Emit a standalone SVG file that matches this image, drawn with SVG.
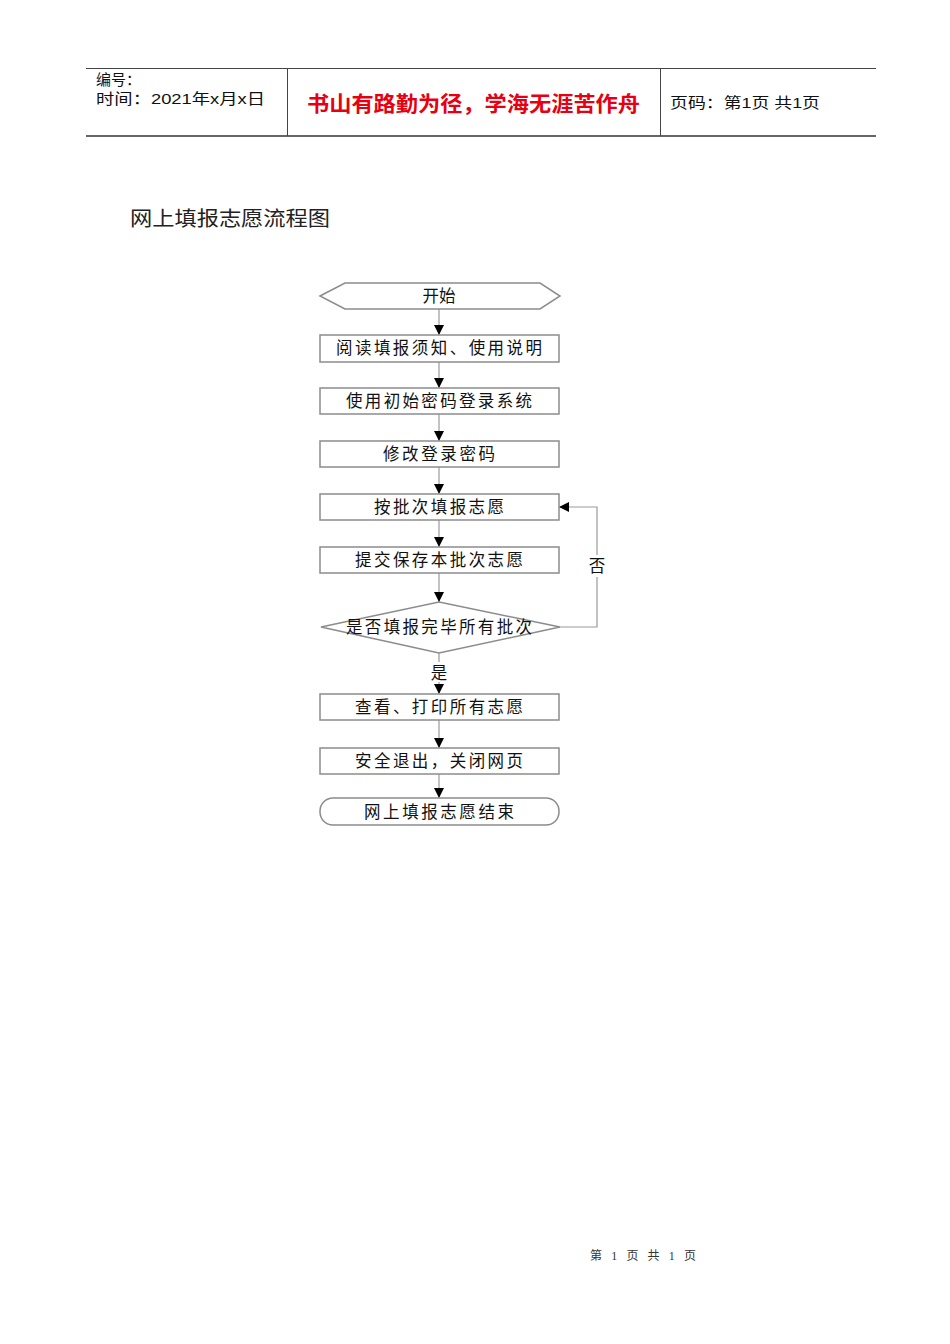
<svg xmlns="http://www.w3.org/2000/svg" width="950" height="1344" viewBox="0 0 950 1344">
<defs>
<style>
.hdr{font-family:"Liberation Sans","Noto Sans CJK SC",sans-serif;font-size:15px;fill:#111}
.red{font-family:"Liberation Sans","Noto Sans CJK SC",sans-serif;font-size:21px;fill:#e60012;font-weight:bold}
.node{fill:#fff;stroke:#8c8c8c;stroke-width:1.5}
.lbl{font-family:"Liberation Sans","Noto Sans CJK SC",sans-serif;font-size:16.5px;fill:#111;text-anchor:middle}
.conn{stroke:#9a9a9a;stroke-width:1.2;fill:none}
.title{font-family:"Liberation Serif","Noto Sans CJK SC",serif;font-size:20px;fill:#222}
.foot{font-family:"Liberation Serif","Noto Sans CJK SC",serif;font-size:12px;fill:#333}
</style>
<marker id="arr" viewBox="0 0 10 10" refX="10" refY="5" markerWidth="10" markerHeight="10" markerUnits="userSpaceOnUse" orient="auto">
<path d="M0,0 L10,5 L0,10 Z" fill="#000"/>
</marker>
</defs>
<rect width="950" height="1344" fill="#fff"/>
<g id="header">
<line x1="86" y1="68.5" x2="876" y2="68.5" stroke="#444" stroke-width="1"/>
<line x1="86" y1="136" x2="876" y2="136" stroke="#666" stroke-width="2"/>
<line x1="287.5" y1="68" x2="287.5" y2="136" stroke="#444" stroke-width="1"/>
<line x1="660.5" y1="68" x2="660.5" y2="136" stroke="#444" stroke-width="1"/>
<text class="hdr" x="96" y="85">编号：</text>
<text class="hdr" x="96" y="104" textLength="169" lengthAdjust="spacingAndGlyphs">时间：2021年x月x日</text>
<text class="red" x="307" y="111" textLength="333" lengthAdjust="spacingAndGlyphs">书山有路勤为径，学海无涯苦作舟</text>
<text class="hdr" x="670" y="108" textLength="150" lengthAdjust="spacingAndGlyphs">页码：第1页 共1页</text>
</g>
<text class="title" x="130" y="226" textLength="200" lengthAdjust="spacingAndGlyphs">网上填报志愿流程图</text>
<g id="connectors">
<line class="conn" x1="439" y1="309" x2="439" y2="335" marker-end="url(#arr)"/>
<line class="conn" x1="439" y1="362" x2="439" y2="388" marker-end="url(#arr)"/>
<line class="conn" x1="439" y1="414" x2="439" y2="441" marker-end="url(#arr)"/>
<line class="conn" x1="439" y1="467" x2="439" y2="494" marker-end="url(#arr)"/>
<line class="conn" x1="439" y1="520" x2="439" y2="547" marker-end="url(#arr)"/>
<line class="conn" x1="439" y1="573" x2="439" y2="602" marker-end="url(#arr)"/>
<line class="conn" x1="439" y1="653" x2="439" y2="694" marker-end="url(#arr)"/>
<line class="conn" x1="439" y1="720" x2="439" y2="748" marker-end="url(#arr)"/>
<line class="conn" x1="439" y1="774" x2="439" y2="798" marker-end="url(#arr)"/>
<polyline class="conn" points="560,627 597,627 597,507 559,507" marker-end="url(#arr)"/>
<rect x="586" y="555" width="22" height="22" fill="#fff"/>
<text class="lbl" x="597" y="572">否</text>
<rect x="429" y="662" width="20" height="20" fill="#fff"/>
<text class="lbl" x="439" y="679">是</text>
</g>
<g id="start">
<polygon class="node" points="320,296 345,283 540,283 560,296 540,309 345,309"/>
<text class="lbl" x="439" y="302">开始</text>
</g>
<g id="n1">
<rect class="node" x="320" y="335" width="239" height="27"/>
<text class="lbl" x="439" y="354" textLength="206" lengthAdjust="spacing">阅读填报须知、使用说明</text>
</g>
<g id="n2">
<rect class="node" x="320" y="388" width="239" height="26"/>
<text class="lbl" x="439" y="407" textLength="186" lengthAdjust="spacing">使用初始密码登录系统</text>
</g>
<g id="n3">
<rect class="node" x="320" y="441" width="239" height="26"/>
<text class="lbl" x="439" y="460" textLength="112" lengthAdjust="spacing">修改登录密码</text>
</g>
<g id="n4">
<rect class="node" x="320" y="494" width="239" height="26"/>
<text class="lbl" x="439" y="513" textLength="130" lengthAdjust="spacing">按批次填报志愿</text>
</g>
<g id="n5">
<rect class="node" x="320" y="547" width="239" height="26"/>
<text class="lbl" x="439" y="566" textLength="168" lengthAdjust="spacing">提交保存本批次志愿</text>
</g>
<g id="decision">
<polygon class="node" points="439,602 560,627 439,653 321,627"/>
<text class="lbl" x="439" y="633" textLength="186" lengthAdjust="spacing">是否填报完毕所有批次</text>
</g>
<g id="n6">
<rect class="node" x="320" y="694" width="239" height="26"/>
<text class="lbl" x="439" y="713" textLength="168" lengthAdjust="spacing">查看、打印所有志愿</text>
</g>
<g id="n7">
<rect class="node" x="320" y="748" width="239" height="26"/>
<text class="lbl" x="439" y="767" textLength="168" lengthAdjust="spacing">安全退出，关闭网页</text>
</g>
<g id="end">
<rect class="node" x="320" y="798" width="239" height="27" rx="13" ry="13"/>
<text class="lbl" x="439" y="818" textLength="150" lengthAdjust="spacing">网上填报志愿结束</text>
</g>
<text class="foot" x="590" y="1260" textLength="106" lengthAdjust="spacing">第 1 页 共 1 页</text>
</svg>
